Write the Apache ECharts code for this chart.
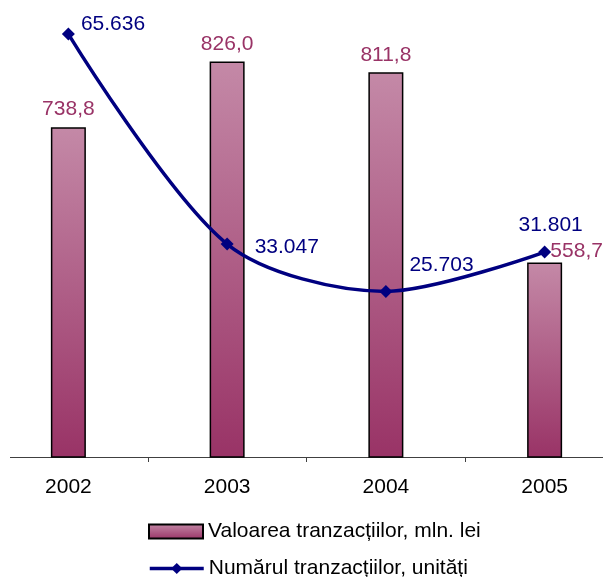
<!DOCTYPE html>
<html>
<head>
<meta charset="utf-8">
<script src="https://cdn.jsdelivr.net/npm/echarts@6/dist/echarts.min.js"></script>
<style>
html,body{margin:0;padding:0;background:#fff;overflow:hidden;width:603px;height:577px;}
#chart{width:635px;height:577px;margin-left:-11px;}
</style>
</head>
<body>
<div id="chart"></div>
<script>
var years = ['2002', '2003', '2004', '2005'];
var valoarea = [738.8, 826.0, 811.8, 558.7];
var numarul = [65636, 33047, 25703, 31801];
var seriesNames = ['Valoarea tranzacțiilor, mln. lei', 'Numărul tranzacțiilor, unități'];

var FONT = '"Liberation Sans", Arial, sans-serif';
var barLabelStyle = [
  { position: 'top', offset: [0, 0] },
  { position: 'top', offset: [0, 0] },
  { position: 'top', offset: [0, 0] },
  { position: 'top', offset: [32, 6] }
];
var lineLabelStyle = [
  { position: 'right', offset: [1, -10] },
  { position: 'right', offset: [16, 3] },
  { position: 'right', offset: [12, -26] },
  { position: 'top', offset: [6, -5] }
];

function fmtComma(v) { return v.toFixed(1).replace('.', ','); }
function fmtThousands(v) { return String(v).replace(/\B(?=(\d{3})+(?!\d))/g, '.'); }

var legendCommon = {
  left: 154,
  itemWidth: 54,
  itemHeight: 14,
  textStyle: { fontSize: 21, color: '#000', fontFamily: FONT }
};

var chart = echarts.init(document.getElementById('chart'), null, { renderer: 'canvas' });
chart.setOption({
  animation: false,
  backgroundColor: '#ffffff',
  textStyle: { fontFamily: FONT },
  grid: { left: 0, right: 0, top: 6, bottom: 120, containLabel: false },
  legend: [
    Object.assign({}, legendCommon, { top: 516, data: [{ name: seriesNames[0], icon: 'rect' }] }),
    Object.assign({}, legendCommon, {
      top: 553,
      lineStyle: { width: 3.5, color: '#000080' },
      data: [{ name: seriesNames[1] }]
    })
  ],
  graphic: [{
    type: 'rect',
    left: 0,
    top: 454,
    shape: { width: 21, height: 6 },
    style: { fill: '#ffffff' },
    z: 100
  }],
  xAxis: {
    type: 'category',
    data: years,
    axisLine: { show: true, lineStyle: { color: '#404040', width: 1 } },
    axisTick: { show: true, interval: 0, length: 5, lineStyle: { color: '#404040', width: 1 } },
    axisLabel: { fontSize: 21, color: '#000', margin: 20, fontFamily: FONT },
    splitLine: { show: false }
  },
  yAxis: [
    { type: 'value', min: 300, max: 900, show: false, splitLine: { show: false } },
    { type: 'value', min: 0, max: 70000, show: false, splitLine: { show: false } }
  ],
  series: [
    {
      name: seriesNames[0],
      type: 'bar',
      yAxisIndex: 0,
      barWidth: 35,
      itemStyle: {
        color: new echarts.graphic.LinearGradient(0, 0, 0, 1, [
          { offset: 0, color: '#c489a7' },
          { offset: 1, color: '#993366' }
        ]),
        borderColor: '#000',
        borderWidth: 1.5
      },
      data: valoarea.map(function (v, i) {
        return {
          value: v,
          label: {
            show: true,
            position: barLabelStyle[i].position,
            offset: barLabelStyle[i].offset,
            distance: 7,
            fontSize: 21,
            color: '#993366',
            fontFamily: FONT,
            formatter: function (p) { return fmtComma(p.value); }
          }
        };
      }),
      z: 2
    },
    {
      name: seriesNames[1],
      type: 'line',
      yAxisIndex: 1,
      smooth: 0.3,
      symbol: 'diamond',
      symbolSize: 13,
      lineStyle: { color: '#000080', width: 3.5 },
      itemStyle: { color: '#000080' },
      data: numarul.map(function (v, i) {
        return {
          value: v,
          label: {
            show: true,
            position: lineLabelStyle[i].position,
            offset: lineLabelStyle[i].offset,
            distance: 5,
            fontSize: 21,
            color: '#000080',
            fontFamily: FONT,
            formatter: function (p) { return fmtThousands(p.value); }
          }
        };
      }),
      z: 3
    }
  ]
});
</script>
</body>
</html>
